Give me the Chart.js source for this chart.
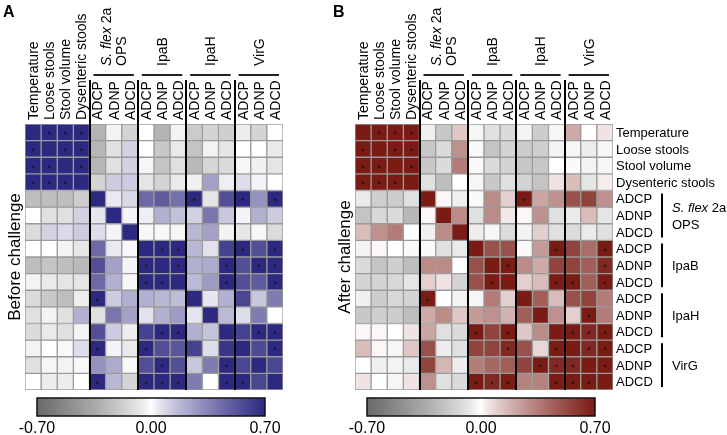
<!DOCTYPE html>
<html>
<head>
<meta charset="utf-8">
<script src="https://cdn.jsdelivr.net/npm/chart.js@4.4.1/dist/chart.umd.min.js"></script>
<style>
  html, body { margin: 0; padding: 0; background: #fff; }
  #wrap { position: relative; width: 727px; height: 435px; }
  canvas { position: absolute; top: 0; }
  #before { left: 0; }
  #after { left: 330px; }
</style>
</head>
<body>
<div id="wrap">
  <canvas id="before" width="330" height="435"></canvas>
  <canvas id="after" width="397" height="435"></canvas>
</div>
<script>
const FONT = "'Liberation Sans', Arial, sans-serif";

// variables (rows and columns share the same order)
const varNames = ["Temperature", "Loose stools", "Stool volume", "Dysenteric stools",
  "ADCP", "ADNP", "ADCD", "ADCP", "ADNP", "ADCD",
  "ADCP", "ADNP", "ADCD", "ADCP", "ADNP", "ADCD"];
const antigens = [
  { name: ["S. flex 2a", "OPS"], from: 4, to: 6 },
  { name: ["IpaB"], from: 7, to: 9 },
  { name: ["IpaH"], from: 10, to: 12 },
  { name: ["VirG"], from: 13, to: 15 }
];
const barTicks = ["-0.70", "0.00", "0.70"];
const barRange = 0.7;

// correlations before challenge
const before = [
  [1, .85, .85, .80, -.30, -.03, -.15, 0, -.30, -.03, -.19, -.15, -.17, -.05, -.15, 0],
  [.85, 1, .90, .80, -.28, -.10, .10, 0, -.20, -.06, -.22, -.03, -.08, 0, 0, -.06],
  [.85, .90, 1, .80, -.28, -.10, .10, -.02, -.22, -.10, -.27, -.14, -.12, -.02, -.04, -.08],
  [.80, .80, .80, 1, -.15, .12, .12, -.08, -.15, -.06, -.04, .25, .03, .07, .02, 0],
  [-.25, -.25, -.25, -.18, 1, .04, .08, .45, .50, .42, .75, -.08, .55, .75, .30, .75],
  [0, -.10, -.10, .10, .05, 1, .02, .03, .20, .15, .10, .40, .13, .02, .20, .12],
  [-.12, .10, .08, .12, .07, .02, 1, .01, .01, -.02, .18, .25, -.03, -.07, .01, -.12],
  [0, 0, -.03, -.07, .45, .04, .01, 1, .75, .75, .18, .06, .60, .75, .55, .75],
  [-.25, -.22, -.25, -.27, .55, .25, .02, .75, 1, .75, .20, .22, .75, .55, .75, .75],
  [-.03, -.06, -.08, -.08, .45, .20, -.02, .75, .75, 1, .17, .27, .75, .55, .50, .75],
  [-.12, -.20, -.25, -.05, .75, .12, .20, .20, .18, .16, 1, .05, .20, .58, .13, .38],
  [-.10, -.03, -.10, .20, -.10, .40, .25, .06, .20, .27, .05, 1, .17, .07, .38, 0],
  [-.12, -.06, -.10, .02, .55, .12, -.05, .60, .75, .75, .20, .14, 1, .60, .75, .75],
  [-.03, 0, .01, .07, .75, .02, -.06, .75, .55, .52, .60, .07, .65, 1, .57, .75],
  [-.10, -.02, -.03, .01, .30, .22, .01, .55, .75, .55, .13, .38, .75, .58, 1, .58],
  [0, -.05, -.05, 0, .75, .18, -.15, .75, .75, .75, .38, 0, .75, .75, .58, 1]
];
const beforeStars = [
  [1, 2, 3], [0, 2, 3], [0, 1, 3], [0, 1, 2],
  [10, 13, 15], [], [], [8, 9, 13, 15],
  [7, 9, 12, 14, 15], [7, 8, 12, 15], [4], [],
  [8, 9, 14, 15], [4, 7, 15], [8, 12], [4, 7, 8, 9, 12, 13]
];

// correlations after challenge
const after = [
  [1, .80, .80, .80, -.04, -.20, .12, -.02, -.10, -.12, -.03, -.18, -.02, .20, 0, .05],
  [.80, 1, .85, .80, -.20, -.12, .28, -.01, -.22, -.15, -.18, -.17, -.03, -.02, -.05, -.02],
  [.80, .85, 1, .80, -.20, -.12, .35, -.01, -.12, -.15, -.20, -.20, 0, -.01, -.03, -.02],
  [.80, .80, .80, 1, -.10, -.25, 0, -.02, -.20, -.10, -.15, -.22, .05, .15, -.08, .03],
  [-.06, -.17, -.18, -.10, 1, .01, -.04, -.01, .30, .10, .75, .22, .28, .50, .55, .28],
  [-.22, -.13, -.12, -.28, .01, 1, .30, -.10, .30, .04, .01, .28, -.10, -.06, .15, -.08],
  [.15, .28, .35, 0, -.04, .30, 1, -.05, -.02, -.12, -.03, .10, -.10, -.12, -.06, -.10],
  [-.03, .01, 0, -.01, -.01, -.10, -.06, 1, .50, .50, -.01, .25, .75, .55, .40, .75],
  [-.12, -.22, -.17, -.25, .30, .30, 0, .50, 1, .75, .30, .20, .55, .55, .45, .65],
  [-.15, -.15, -.13, -.08, .10, .05, -.15, .50, .75, 1, .10, .15, .70, .70, .45, .75],
  [-.04, -.18, -.13, -.15, .75, 0, -.03, -.02, .35, .10, 1, .45, .15, .50, .55, .35],
  [-.20, -.17, -.18, -.25, .20, .30, .12, .25, .28, .18, .45, 1, .28, .10, .75, .35],
  [.01, .01, 0, .05, .22, -.10, -.12, .75, .55, .75, .12, .30, 1, .75, .65, .75],
  [.15, .01, -.02, .12, .50, -.05, -.10, .55, .55, .65, .50, .08, .75, 1, .65, .75],
  [0, -.04, -.03, -.06, .55, .17, -.05, .35, .42, .45, .55, .75, .65, .65, 1, .75],
  [.05, 0, -.02, .05, .28, -.10, -.12, .75, .65, .75, .33, .33, .75, .75, .75, 1]
];
const afterStars = [
  [1, 2, 3], [0, 2, 3], [0, 1, 3], [0, 1, 2],
  [10], [], [], [12, 15],
  [9, 15], [8, 12, 13, 15], [4], [14],
  [7, 9, 13, 14, 15], [9, 12, 14, 15], [11, 12, 13, 15], [7, 8, 9, 12, 13, 14]
];

const GRAY = [106, 106, 106];
const BLUE = [45, 41, 128];
const RED = [122, 27, 20];

function cellColor(v, hi) {
  let t = Math.max(-1, Math.min(1, v / barRange));
  const end = t < 0 ? GRAY : hi;
  t = Math.pow(Math.abs(t), 0.8);
  const c = end.map(e => Math.round(255 + (e - 255) * t));
  return "rgb(" + c.join(",") + ")";
}

function rotText(ctx, parts, x, y, size) {
  // text reading bottom to top, starting at (x, y)
  ctx.save();
  ctx.translate(x, y);
  ctx.rotate(-Math.PI / 2);
  ctx.textAlign = "left";
  ctx.textBaseline = "middle";
  let off = 0;
  parts.forEach(p => {
    ctx.font = (p.italic ? "italic " : "") + size + "px " + FONT;
    ctx.fillText(p.t, off, 0);
    off += ctx.measureText(p.t).width;
  });
  ctx.restore();
}

function nameParts(s) {
  if (s === "S. flex 2a") return [{ t: "S. flex", italic: true }, { t: " 2a" }];
  return [{ t: s }];
}

const decor = {
  id: "decor",
  afterDatasetsDraw(chart, args, o) {
    const { ctx, chartArea: a, scales: { x, y } } = chart;
    const cw = x.getPixelForValue(1) - x.getPixelForValue(0);
    const edge = k => x.getPixelForValue(k) - cw / 2;
    ctx.save();
    ctx.fillStyle = "#111";

    // significance stars
    ctx.font = "9px " + FONT;
    ctx.textAlign = "center";
    ctx.textBaseline = "alphabetic";
    o.stars.forEach((cols, r) => {
      cols.forEach(c => {
        ctx.fillText("*", x.getPixelForValue(c), y.getPixelForValue(r + 0.5) + 5);
      });
    });

    // antigen separators
    ctx.strokeStyle = "#000";
    ctx.lineWidth = 2;
    antigens.forEach(g => {
      const xx = Math.round(edge(g.from));
      ctx.beginPath();
      ctx.moveTo(xx, 80);
      ctx.lineTo(xx, a.bottom);
      ctx.stroke();
    });

    // column labels
    ctx.fillStyle = "#000";
    varNames.forEach((n, i) => rotText(ctx, [{ t: n }], x.getPixelForValue(i) + 1, a.top - 4, 14));

    // antigen headers
    ctx.strokeStyle = "#222";
    antigens.forEach(g => {
      const x0 = edge(g.from), x1 = edge(g.to + 1);
      ctx.beginPath();
      ctx.moveTo(x0 + 4, 75);
      ctx.lineTo(x1 - 4, 75);
      ctx.stroke();
      const cx = (x0 + x1) / 2;
      const n = g.name.length;
      g.name.forEach((s, k) => rotText(ctx, nameParts(s), cx + (k - (n - 1) / 2) * 15 + 1, 66, 14));
    });

    // side label and panel letter
    ctx.save();
    ctx.font = "17px " + FONT;
    ctx.translate(15, (a.top + a.bottom) / 2);
    ctx.rotate(-Math.PI / 2);
    ctx.textAlign = "center";
    ctx.textBaseline = "middle";
    ctx.fillText(o.side, 0, 0);
    ctx.restore();
    ctx.font = "bold 16px " + FONT;
    ctx.textAlign = "left";
    ctx.textBaseline = "alphabetic";
    ctx.fillText(o.letter, 3, 17);

    // row labels with antigen brackets
    if (o.rowLabels) {
      const lx = a.right + 3;
      ctx.font = "13px " + FONT;
      ctx.textBaseline = "middle";
      varNames.forEach((n, r) => ctx.fillText(n, lx, y.getPixelForValue(r + 0.5) + 1));
      ctx.strokeStyle = "#000";
      antigens.forEach(g => {
        const y0 = y.getPixelForValue(g.from) + 3, y1 = y.getPixelForValue(g.to + 1) - 3;
        ctx.beginPath();
        ctx.moveTo(lx + 46, y0);
        ctx.lineTo(lx + 46, y1);
        ctx.stroke();
        const cy = (y0 + y1) / 2, n = g.name.length;
        g.name.forEach((s, k) => {
          let off = lx + 56;
          nameParts(s).forEach(p => {
            ctx.font = (p.italic ? "italic " : "") + "13px " + FONT;
            ctx.fillText(p.t, off, cy + (k - (n - 1) / 2) * 17 + 1);
            off += ctx.measureText(p.t).width;
          });
        });
      });
    }

    // colour bar
    const bx0 = 37, bx1 = 265, by = 398, bh = 18;
    const grad = ctx.createLinearGradient(bx0, 0, bx1, 0);
    for (let s = 0; s <= 40; s++) {
      grad.addColorStop(s / 40, cellColor(-barRange + 2 * barRange * s / 40, o.hi));
    }
    ctx.fillStyle = grad;
    ctx.fillRect(bx0, by, bx1 - bx0, bh);
    ctx.strokeStyle = "#111";
    ctx.lineWidth = 1.5;
    ctx.strokeRect(bx0, by, bx1 - bx0, bh);
    ctx.fillStyle = "#000";
    ctx.font = "16px " + FONT;
    ctx.textAlign = "center";
    ctx.textBaseline = "alphabetic";
    barTicks.forEach((t, i) => ctx.fillText(t, bx0 + (bx1 - bx0) * i / (barTicks.length - 1), 433));
    ctx.restore();
  }
};

function makeHeatmap(id, matrix, stars, hi, letter, side, rowLabels, rightPad) {
  const datasets = matrix.map((row, r) => ({
    label: varNames[r],
    data: row.map(() => 1),
    backgroundColor: row.map(v => cellColor(v, hi)),
    borderColor: "#9a9a9a",
    borderWidth: 1,
    borderSkipped: false,
    barPercentage: 1,
    categoryPercentage: 1
  }));
  return new Chart(document.getElementById(id).getContext("2d"), {
    type: "bar",
    data: { labels: varNames, datasets: datasets },
    options: {
      responsive: false,
      animation: false,
      layout: { padding: { left: 25, top: 124, right: rightPad, bottom: 45 } },
      scales: {
        x: { stacked: true, display: false },
        y: { stacked: true, display: false, min: 0, max: matrix.length, reverse: true }
      },
      plugins: {
        legend: { display: false },
        tooltip: { enabled: false },
        decor: { stars: stars, hi: hi, letter: letter, side: side, rowLabels: rowLabels }
      }
    },
    plugins: [decor]
  });
}

makeHeatmap("before", before, beforeStars, BLUE, "A", "Before challenge", false, 47);
makeHeatmap("after", after, afterStars, RED, "B", "After challenge", true, 114);
</script>
</body>
</html>
